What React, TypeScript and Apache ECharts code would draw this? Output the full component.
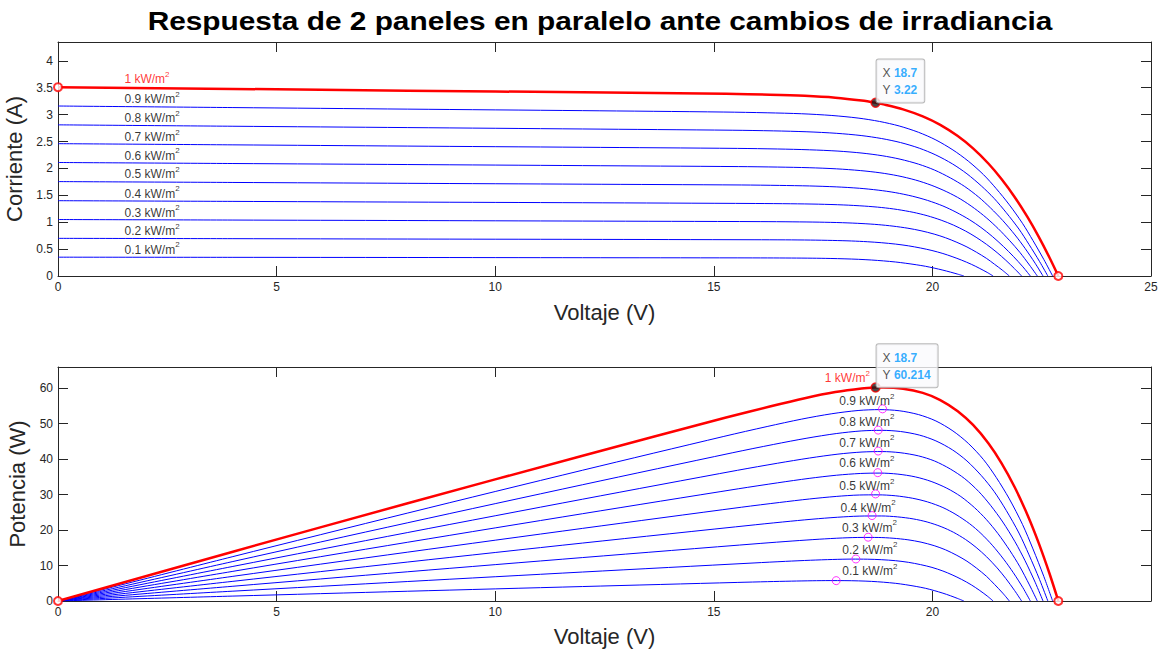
import React, { useEffect, useRef } from 'react';
import * as echarts from 'echarts';

const FONT = '"Liberation Sans", Arial, Helvetica, sans-serif';

const titleText = 'Respuesta de 2 paneles en paralelo ante cambios de irradiancia';
const irradianceLabels = ['1', '0.9', '0.8', '0.7', '0.6', '0.5', '0.4', '0.3', '0.2', '0.1'];

// I-V curves (voltage in V, current in A), one pair per irradiance level
const V_10 = [0, 4, 8, 12, 15.28, 16.28, 17.08, 17.78, 18.38, 18.7, 18.88, 19.33, 19.78, 20.18, 20.58, 20.93, 21.28, 21.58, 21.88, 22.18, 22.43, 22.68, 22.88];
const I_10 = [3.51, 3.478, 3.446, 3.414, 3.386, 3.37, 3.349, 3.314, 3.261, 3.22, 3.191, 3.098, 2.967, 2.809, 2.601, 2.372, 2.091, 1.803, 1.47, 1.088, 0.731, 0.339, 0];
const V_09 = [0, 4, 8, 12, 15.23, 16.22, 17.01, 17.7, 18.3, 18.79, 19.24, 19.68, 20.08, 20.47, 20.82, 21.17, 21.46, 21.76, 22.06, 22.3, 22.55, 22.75];
const I_09 = [3.16, 3.131, 3.102, 3.074, 3.048, 3.034, 3.016, 2.984, 2.936, 2.873, 2.789, 2.672, 2.529, 2.343, 2.136, 1.883, 1.624, 1.323, 0.98, 0.659, 0.305, 0];
const V_08 = [0, 4, 8, 12, 15.42, 16.37, 17.13, 17.8, 18.37, 18.84, 19.27, 19.7, 20.08, 20.46, 20.79, 21.12, 21.41, 21.69, 21.98, 22.21, 22.45, 22.64];
const I_08 = [2.81, 2.784, 2.759, 2.733, 2.71, 2.698, 2.681, 2.653, 2.611, 2.555, 2.481, 2.376, 2.249, 2.083, 1.9, 1.674, 1.444, 1.177, 0.872, 0.586, 0.271, 0];
const V_07 = [0, 4, 8, 12, 15.54, 16.46, 17.19, 17.84, 18.39, 18.85, 19.26, 19.68, 20.05, 20.41, 20.74, 21.06, 21.33, 21.61, 21.89, 22.12, 22.35, 22.53];
const I_07 = [2.46, 2.438, 2.415, 2.393, 2.372, 2.361, 2.346, 2.322, 2.285, 2.236, 2.172, 2.08, 1.969, 1.824, 1.663, 1.466, 1.265, 1.031, 0.763, 0.513, 0.237, 0];
const V_06 = [0, 4, 8, 12, 15.56, 16.46, 17.18, 17.81, 18.35, 18.8, 19.21, 19.61, 19.97, 20.33, 20.65, 20.96, 21.23, 21.5, 21.77, 22.0, 22.22, 22.4];
const I_06 = [2.11, 2.091, 2.072, 2.052, 2.034, 2.025, 2.013, 1.992, 1.96, 1.919, 1.863, 1.785, 1.689, 1.565, 1.427, 1.258, 1.085, 0.884, 0.655, 0.44, 0.204, 0];
const V_05 = [0, 4, 8, 12, 15.63, 16.5, 17.19, 17.8, 18.33, 18.76, 19.15, 19.54, 19.89, 20.24, 20.54, 20.85, 21.11, 21.37, 21.63, 21.85, 22.07, 22.24];
const I_05 = [1.755, 1.739, 1.723, 1.707, 1.692, 1.684, 1.674, 1.657, 1.631, 1.596, 1.55, 1.484, 1.405, 1.302, 1.187, 1.046, 0.903, 0.736, 0.545, 0.366, 0.17, 0];
const V_04 = [0, 4, 8, 12, 15.96, 16.76, 17.4, 17.96, 18.44, 18.84, 19.2, 19.56, 19.88, 20.2, 20.48, 20.76, 21.0, 21.24, 21.48, 21.68, 21.88, 22.04];
const I_04 = [1.4, 1.387, 1.374, 1.362, 1.348, 1.343, 1.335, 1.321, 1.3, 1.273, 1.236, 1.184, 1.121, 1.038, 0.947, 0.835, 0.72, 0.587, 0.435, 0.292, 0.135, 0];
const V_03 = [0, 4, 8, 12, 16.06, 16.81, 17.41, 17.94, 18.39, 18.76, 19.1, 19.44, 19.74, 20.04, 20.3, 20.56, 20.79, 21.01, 21.24, 21.42, 21.61, 21.76];
const I_03 = [1.05, 1.04, 1.031, 1.021, 1.011, 1.007, 1.001, 0.991, 0.975, 0.955, 0.927, 0.888, 0.841, 0.779, 0.711, 0.626, 0.54, 0.441, 0.326, 0.219, 0.102, 0];
const V_02 = [0, 4, 8, 12, 15.92, 16.64, 17.21, 17.72, 18.15, 18.51, 18.83, 19.16, 19.45, 19.73, 19.99, 20.24, 20.45, 20.67, 20.89, 21.07, 21.25, 21.39];
const I_02 = [0.7, 0.694, 0.687, 0.681, 0.674, 0.672, 0.668, 0.661, 0.651, 0.637, 0.619, 0.593, 0.561, 0.52, 0.474, 0.418, 0.361, 0.294, 0.218, 0.146, 0.068, 0];
const V_01 = [0, 4, 8, 12, 15.55, 16.23, 16.78, 17.25, 17.66, 18.0, 18.31, 18.61, 18.88, 19.16, 19.39, 19.63, 19.84, 20.04, 20.24, 20.41, 20.58, 20.72];
const I_01 = [0.35, 0.347, 0.344, 0.34, 0.337, 0.336, 0.334, 0.331, 0.326, 0.319, 0.31, 0.297, 0.281, 0.26, 0.237, 0.209, 0.181, 0.147, 0.109, 0.073, 0.034, 0];

const voltageSets = [V_10, V_09, V_08, V_07, V_06, V_05, V_04, V_03, V_02, V_01];
const currentSets = [I_10, I_09, I_08, I_07, I_06, I_05, I_04, I_03, I_02, I_01];

// maximum power points (0.9 ... 0.1 kW/m2)
const mppV = [18.86, 18.76, 18.76, 18.75, 18.7, 18.62, 18.53, 18.25, 17.8];
const mppP = [54.2, 48.2, 42.3, 36.2, 30.2, 24.1, 18.0, 11.85, 5.74];

// data tip of the 1 kW/m2 curve
const tipV = 18.7;
const tipI = 3.22;
const tipP = 60.214;
const iscFull = 3.51;
const vocFull = 22.88;

// tick values of the upper edge of the power plot (the one at 20 lies under the data tip)
const powerTopTicks = [0, 5, 10, 15];

// text annotation anchors (data coordinates)
const ivLabelV = [1.52, 1.52, 1.52, 1.52, 1.52, 1.52, 1.52, 1.52, 1.52, 1.52];
const ivLabelI = [3.657, 3.285, 2.93, 2.58, 2.24, 1.89, 1.53, 1.18, 0.83, 0.49];
const pvLabelV = [17.54, 17.87, 17.87, 17.87, 17.87, 17.87, 17.9, 17.93, 17.94, 17.94];
const pvLabelP = [62.8, 56.4, 50.6, 44.6, 38.8, 32.4, 26.3, 20.6, 14.5, 8.4];

const AXIS_COLOR = '#262626';

function makeAxis(extra: any) {
  return {
    type: 'value',
    z: 0,
    axisLine: { show: true, onZero: false, lineStyle: { color: AXIS_COLOR, width: 1 } },
    axisTick: { show: true, inside: true, length: 10, lineStyle: { color: AXIS_COLOR, width: 1 } },
    splitLine: { show: false },
    axisLabel: { color: AXIS_COLOR, fontSize: 12, fontFamily: FONT, margin: 5 },
    nameTextStyle: { color: AXIS_COLOR, fontSize: 22, fontFamily: FONT },
    ...extra,
  };
}

const labelRich = {
  b: { fontSize: 12, lineHeight: 18, color: '#000000', fontFamily: FONT },
  s: { fontSize: 8, lineHeight: 10, verticalAlign: 'top', color: '#000000', fontFamily: FONT },
  r: { fontSize: 12, lineHeight: 18, color: '#ff0000', fontFamily: FONT },
  rs: { fontSize: 8, lineHeight: 10, verticalAlign: 'top', color: '#ff0000', fontFamily: FONT },
};

const tipRich = {
  k: { fontSize: 12, color: '#262626', fontFamily: FONT, lineHeight: 17 },
  v: { fontSize: 12, color: '#0099ff', fontWeight: 'bold', fontFamily: FONT, lineHeight: 17 },
};

function buildOption() {
  const series: any[] = [];
  for (let k = 9; k >= 0; k--) {
    const isRed = k === 0;
    const vs = voltageSets[k];
    const is = currentSets[k];
    const lineStyle = { color: isRed ? '#ff0000' : '#0000ff', width: isRed ? 2.5 : 1 };
    series.push({
      type: 'line', xAxisIndex: 0, yAxisIndex: 0, silent: true, showSymbol: false,
      smooth: 0.3, z: isRed ? 3 : 2, lineStyle,
      data: vs.map((v, j) => [v, is[j]]),
    });
    series.push({
      type: 'line', xAxisIndex: 2, yAxisIndex: 2, silent: true, showSymbol: false,
      smooth: 0.3, z: isRed ? 3 : 2, lineStyle,
      data: vs.map((v, j) => [v, Math.round(v * is[j] * 10000) / 10000]),
    });
  }

  const redCircle = { color: '#ffffff', borderColor: '#ff0000', borderWidth: 2 };
  series.push({
    type: 'scatter', xAxisIndex: 0, yAxisIndex: 0, silent: true, clip: false, z: 6,
    symbol: 'circle', symbolSize: 8, itemStyle: redCircle,
    data: [[0, iscFull], [vocFull, 0]],
  });
  series.push({
    type: 'scatter', xAxisIndex: 2, yAxisIndex: 2, silent: true, clip: false, z: 6,
    symbol: 'circle', symbolSize: 8, itemStyle: redCircle,
    data: [[0, 0], [vocFull, 0]],
  });
  series.push({
    type: 'scatter', xAxisIndex: 2, yAxisIndex: 2, silent: true, clip: false, z: 6,
    symbol: 'circle', symbolSize: 8,
    itemStyle: { color: 'rgba(0,0,0,0)', borderColor: '#ff00ff', borderWidth: 1 },
    data: mppV.map((v, j) => [v, mppP[j]]),
  });

  const mkLabels = (xs: number[], ys: number[], xi: number, yi: number) => ({
    type: 'scatter', xAxisIndex: xi, yAxisIndex: yi, silent: true, clip: false, z: 7,
    symbolSize: 0,
    label: { show: true, position: 'right', distance: 0, rich: labelRich },
    data: irradianceLabels.map((t, k) => ({
      value: [xs[k], ys[k]],
      label: { formatter: k === 0 ? `{r|${t} kW/m}{rs|2}` : `{b|${t} kW/m}{s|2}` },
    })),
  });
  series.push(mkLabels(ivLabelV, ivLabelI, 0, 0));
  series.push(mkLabels(pvLabelV, pvLabelP, 2, 2));

  const tipLabel = (yv: number) => ({
    show: true, position: 'top', align: 'left', verticalAlign: 'bottom', distance: 0, offset: [1, 5],
    formatter: `{k|X} {v|${tipV}}\n{k|Y} {v|${yv}}`,
    rich: tipRich,
    backgroundColor: '#fafafc', borderColor: '#a8a8a8', borderWidth: 1, borderRadius: 2,
    padding: [5, 7, 4, 6],
  });
  const tipItem = { color: '#1a1a1a', borderColor: '#ff0000', borderWidth: 1.5 };
  series.push({
    type: 'scatter', xAxisIndex: 0, yAxisIndex: 0, silent: true, clip: false, z: 50,
    symbol: 'circle', symbolSize: 9, itemStyle: tipItem,
    label: tipLabel(tipI), data: [[tipV, tipI]],
  });
  series.push({
    type: 'scatter', xAxisIndex: 2, yAxisIndex: 2, silent: true, clip: false, z: 50,
    symbol: 'circle', symbolSize: 9, itemStyle: tipItem,
    label: tipLabel(tipP), data: [[tipV, tipP]],
  });

  return {
    animation: false,
    backgroundColor: '#ffffff',
    grid: [
      { left: 58, right: 11, top: 42, height: 234, outerBoundsMode: 'none', containLabel: false },
      { left: 58, right: 11, top: 367, height: 234, outerBoundsMode: 'none', containLabel: false },
    ],
    graphic: [
      {
        type: 'text', x: 600, y: 21, scaleX: 1.147,
        style: {
          text: titleText, fill: '#000000', font: `bold 26px ${FONT}`,
          textAlign: 'center', textVerticalAlign: 'middle',
        },
      },
    ],
    xAxis: [
      makeAxis({ gridIndex: 0, position: 'bottom', min: 0, max: 25, interval: 5,
        name: 'Voltaje (V)', nameLocation: 'middle', nameGap: 25 }),
      makeAxis({ gridIndex: 0, position: 'top', min: 0, max: 25, interval: 5,
        axisLabel: { show: false } }),
      makeAxis({ gridIndex: 1, position: 'bottom', min: 0, max: 25, interval: 5,
        name: 'Voltaje (V)', nameLocation: 'middle', nameGap: 24,
        axisLabel: { color: AXIS_COLOR, fontSize: 12, fontFamily: FONT, margin: 5,
          formatter: (v: number) => (v >= 25 ? '' : String(v)) } }),
      makeAxis({ gridIndex: 1, position: 'top', min: 0, max: 25, interval: 5,
        axisTick: { show: true, inside: true, length: 10, customValues: powerTopTicks,
          lineStyle: { color: AXIS_COLOR, width: 1 } },
        axisLabel: { show: false } }),
    ],
    yAxis: [
      makeAxis({ gridIndex: 0, position: 'left', min: 0, max: 4.35, interval: 0.5,
        name: 'Corriente (A)', nameLocation: 'middle', nameGap: 23,
        axisLabel: { color: AXIS_COLOR, fontSize: 12, fontFamily: FONT, margin: 5, showMaxLabel: false } }),
      makeAxis({ gridIndex: 0, position: 'right', min: 0, max: 4.35, interval: 0.5,
        axisLabel: { show: false } }),
      makeAxis({ gridIndex: 1, position: 'left', min: 0, max: 66, interval: 10,
        name: 'Potencia (W)', nameLocation: 'middle', nameGap: 15,
        axisLabel: { color: AXIS_COLOR, fontSize: 12, fontFamily: FONT, margin: 5, showMaxLabel: false } }),
      makeAxis({ gridIndex: 1, position: 'right', min: 0, max: 66, interval: 10,
        axisLabel: { show: false } }),
    ],
    series,
  };
}

export default function App() {
  const ref = useRef<HTMLDivElement>(null);
  useEffect(() => {
    if (!ref.current) return;
    const chart = echarts.init(ref.current, undefined, { renderer: 'svg' });
    chart.setOption(buildOption() as any);
    return () => chart.dispose();
  }, []);
  return (
    <div
      ref={ref}
      style={{ position: 'fixed', left: 0, top: 0, width: 1162, height: 651, background: '#ffffff' }}
    />
  );
}
